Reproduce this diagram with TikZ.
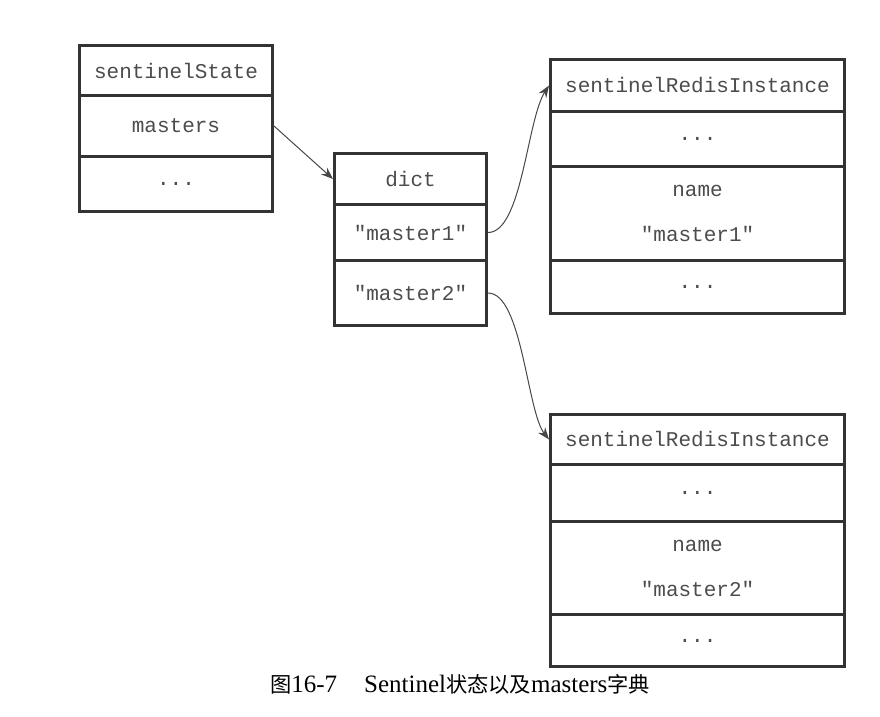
\documentclass[tikz,border=0pt]{standalone}
\usepackage{fontspec}
\setmainfont{Liberation Serif}
\setmonofont{Liberation Mono}
\newfontfamily\cjk[Scale=0.85]{Noto Sans CJK SC}
\usetikzlibrary{arrows.meta}
\begin{document}
\begin{tikzpicture}[x=1pt,y=-1pt,
  cell/.style={draw=black!80, line width=3pt, rectangle, inner sep=0pt,
    anchor=north west, text=black!70,
    font=\ttfamily\fontsize{21}{45}\selectfont, align=center},
  link/.style={draw=black!72, line width=1pt, -{Stealth[length=12pt,width=9pt]}}]
\useasboundingbox (0,0) rectangle (880,716);
% sentinelState
\node[cell, minimum width=193pt, minimum height=50pt] (s1) at (78,44) {sentinelState};
\node[cell, minimum width=193pt, minimum height=61pt] (s2) at (78,94) {masters};
\node[cell, minimum width=193pt, minimum height=55pt] (s3) at (78,155) {...};
% dict
\node[cell, minimum width=152pt, minimum height=51pt] (d1) at (333,152) {dict};
\node[cell, minimum width=152pt, minimum height=56pt] (d2) at (333,203) {"master1"};
\node[cell, minimum width=152pt, minimum height=65pt] (d3) at (333,259) {"master2"};
% instance 1
\node[cell, minimum width=294pt, minimum height=52pt] (a1) at (549,58) {sentinelRedisInstance};
\node[cell, minimum width=294pt, minimum height=55pt] (a2) at (549,110) {...};
\node[cell, minimum width=294pt, minimum height=94pt] (a3) at (549,165) {name\\"master1"};
\node[cell, minimum width=294pt, minimum height=53pt] (a4) at (549,259) {...};
% instance 2
\node[cell, minimum width=294pt, minimum height=50pt] (b1) at (549,413) {sentinelRedisInstance};
\node[cell, minimum width=294pt, minimum height=57pt] (b2) at (549,463) {...};
\node[cell, minimum width=294pt, minimum height=93pt] (b3) at (549,520) {name\\"master2"};
\node[cell, minimum width=294pt, minimum height=52pt] (b4) at (549,613) {...};
% connectors
\draw[link] (s2.east) -- (d1.west);
\draw[link] (d2.east) .. controls +(34,0) and +(-22,34) .. (a1.west);
\draw[link] (d3.east) .. controls +(34,0) and +(-22,-28) .. (b1.west);
% caption
\node[font=\fontsize{25}{29}\selectfont, text=black] (cap) at (460,684)
  {{\cjk 图}16-7\hspace{27pt}Sentinel{\cjk 状态以及}masters{\cjk 字典}};
\end{tikzpicture}
\end{document}
